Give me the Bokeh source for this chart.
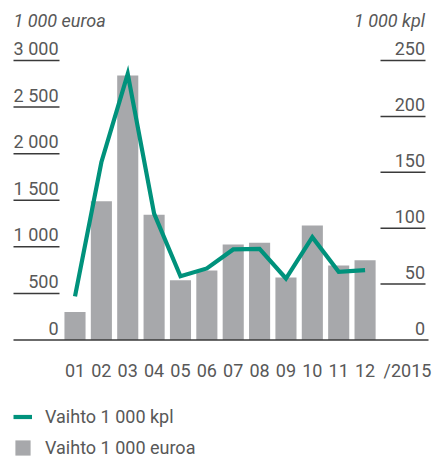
from bokeh.plotting import figure
from bokeh.models import Range1d, Legend, LegendItem
from bokeh.core.properties import value
from bokeh.embed import file_html
from bokeh.resources import INLINE

# ---------------- data ----------------
months = [1, 2, 3, 4, 5, 6, 7, 8, 9, 10, 11, 12]
month_labels = ["01", "02", "03", "04", "05", "06", "07", "08", "09", "10", "11", "12"]
year_label = "/2015"
euro = [300, 1490, 2840, 1345, 640, 745, 1025, 1045, 670, 1230, 800, 855]
kpl = [39, 159, 238, 113, 57, 64, 81, 81.5, 55, 92, 61, 62.5]
euro_ticks = [0, 500, 1000, 1500, 2000, 2500, 3000]
euro_tick_labels = ["0", "500", "1 000", "1 500", "2 000", "2 500", "3 000"]
kpl_ticks = [0, 50, 100, 150, 200, 250]
kpl_tick_labels = ["0", "50", "100", "150", "200", "250"]
left_title = "1 000 euroa"
right_title = "1 000 kpl"
line_name = "Vaihto 1 000 kpl"
bar_name = "Vaihto 1 000 euroa"

# ---------------- layout ----------------
W, H = 435, 461
PAGE0 = 0
X1_PX, X_STEP = 74.5, 26.37          # page px of month 1, px per month
Y0_PX, Y3000_PX = 339.5, 60.0         # page px of 0 and 3000
YS = (Y0_PX - Y3000_PX) / 3000.0
KF = 3000.0 / 250.0

def px_x(px):
    return 1 + (px - X1_PX) / X_STEP

def px_y(py):
    return (Y0_PX - py) / YS

FONT_NAME = "Roboto"
FONT = value(FONT_NAME)
FS = "18px"
TXT = "#585858"
DARK = "#3a3a3a"
GREEN = "#00927c"
GRAY = "#a7a8ab"

p = figure(width=W, height=H, output_backend="svg", toolbar_location=None,
           x_range=Range1d(px_x(PAGE0), px_x(PAGE0 + W)),
           y_range=Range1d(px_y(PAGE0 + H), px_y(PAGE0)),
           min_border=0, min_border_left=0, min_border_right=0,
           min_border_top=0, min_border_bottom=0)
p.extra_y_ranges = {"kpl": Range1d(px_y(PAGE0 + H) / KF, px_y(PAGE0) / KF)}
p.xaxis.visible = False
p.yaxis.visible = False
p.grid.visible = False
p.outline_line_color = None
p.background_fill_color = None
p.border_fill_color = None

# bars
bars = p.vbar(x=months, top=euro, bottom=0, width=0.8, fill_color=GRAY, line_color=None)

# baseline
p.segment(x0=[px_x(13)], x1=[px_x(428)], y0=[0], y1=[0], line_color=DARK, line_width=1.5)

# left tick rules & labels
lt = euro_ticks[1:]
p.segment(x0=[px_x(13)] * len(lt), x1=[px_x(59)] * len(lt), y0=lt, y1=lt,
          line_color=DARK, line_width=1.5)
p.text(x=[px_x(58)] * len(euro_ticks), y=euro_ticks, text=euro_tick_labels,
       text_font=FONT, text_font_size=FS, text_color=TXT,
       text_align="right", text_baseline="alphabetic", y_offset=-12)

# right tick rules & labels
rt = kpl_ticks[1:]
p.segment(x0=[px_x(380)] * len(rt), x1=[px_x(425)] * len(rt), y0=rt, y1=rt,
          line_color=DARK, line_width=1.5, y_range_name="kpl")
p.text(x=[px_x(424.5)] * len(kpl_ticks), y=kpl_ticks, text=kpl_tick_labels,
       text_font=FONT, text_font_size=FS, text_color=TXT,
       text_align="right", text_baseline="alphabetic", y_offset=-12, y_range_name="kpl")

# axis titles
p.text(x=[px_x(13)], y=[px_y(20)], text=[left_title], text_font=FONT,
       text_font_size=FS, text_font_style="italic", text_color=TXT,
       text_align="left", text_baseline="alphabetic")
p.text(x=[px_x(424.5)], y=[px_y(20)], text=[right_title], text_font=FONT,
       text_font_size=FS, text_font_style="italic", text_color=TXT,
       text_align="right", text_baseline="alphabetic")

# x labels
p.text(x=months, y=[0] * len(months), text=month_labels, text_font=FONT,
       text_font_size=FS, text_color=TXT, text_align="center",
       text_baseline="alphabetic", y_offset=30.5)
p.text(x=[px_x(383)], y=[0], text=[year_label], text_font=FONT,
       text_font_size=FS, text_color=TXT, text_align="left",
       text_baseline="alphabetic", y_offset=30.5)

# line
ln = p.line(x=months, y=kpl, line_color=GREEN, line_width=4.2, line_join="miter",
            y_range_name="kpl")

legend = Legend(items=[LegendItem(label=line_name, renderers=[ln]),
                       LegendItem(label=bar_name, renderers=[bars])],
                location=(13, H - 458), orientation="vertical",
                border_line_color=None, background_fill_alpha=0,
                padding=0, margin=0, spacing=10,
                glyph_width=19, glyph_height=19, label_height=20,
                label_standoff=13,
                label_text_font=FONT_NAME, label_text_font_size=FS,
                label_text_color=TXT)
p.add_layout(legend)

open("out.html", "w").write(file_html(p, INLINE))
